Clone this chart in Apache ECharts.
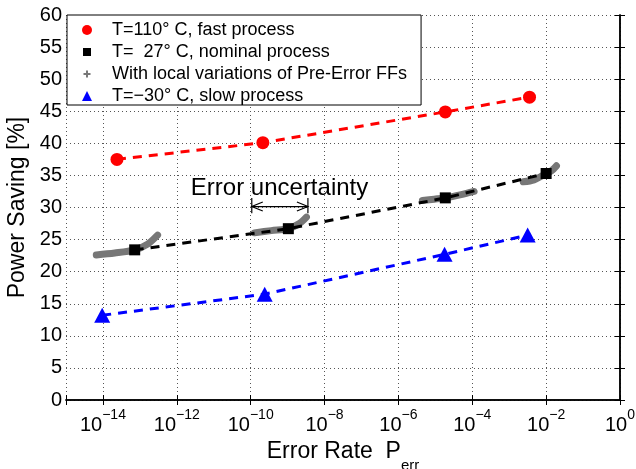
<!DOCTYPE html>
<html>
<head>
<meta charset="utf-8">
<script src="https://cdn.jsdelivr.net/npm/echarts@6/dist/echarts.min.js"></script>
<style>
html, body { margin: 0; padding: 0; background: #fff; }
#chart { width: 636px; height: 469px; }
</style>
</head>
<body>
<div id="chart"></div>
<script>
// x values are log10(P_err), y values are power saving in %
const hotX = [-13.62, -9.67, -4.73, -2.45];
const hotY = [37.5, 40.1, 44.9, 47.2];
const nomX = [-13.14, -8.98, -4.73, -2.0];
const nomY = [23.4, 26.7, 31.5, 35.3];
const coldX = [-14.02, -9.62, -4.75, -2.5];
const coldY = [13.2, 16.5, 22.7, 25.7];

// local variations around each nominal point
const localVar1 = [[-14.18, 22.6], [-13.68, 22.9], [-13.14, 23.4], [-12.79, 24.3], [-12.52, 25.7]];
const localVar2 = [[-9.90, 26.05], [-9.44, 26.4], [-8.98, 26.7], [-8.68, 27.5], [-8.49, 28.5]];
const localVar3 = [[-5.35, 31.1], [-5.03, 31.3], [-4.73, 31.5], [-4.30, 32.0], [-3.95, 32.5]];
const localVar4 = [[-2.62, 34.0], [-2.33, 34.3], [-2.0, 35.3], [-1.86, 35.7], [-1.72, 36.5]];

const names = [
    'T=110° C, fast process',
    'T=  27° C, nominal process',
    'With local variations of Pre-Error FFs',
    'T=\u221230° C, slow process'
];

// "Error uncertainty" annotation (data coords)
const arrowX = [-9.97, -8.45];
const arrowY = 30.15;
const barY = [29.1, 31.5];
const noteX = -11.62;
const noteY = 33.0;

const FONT = 'Liberation Sans, Arial, Helvetica, sans-serif';

function pairs(xs, ys) {
    return xs.map((x, i) => [x, ys[i]]);
}

function expLabel(v) {
    if (Math.abs(Math.round(v)) % 2 === 1) return '';
    const e = Math.round(v);
    const s = e < 0 ? '\u2212' + (-e) : String(e);
    return '{b|10}{s|' + s + '}';
}

const chartDom = document.getElementById('chart');
const myChart = echarts.init(chartDom);

const dashed = { type: [9, 7], width: 3 };

function localSeries(data) {
    return {
        name: names[2],
        type: 'line',
        data: data,
        symbol: 'none',
        smooth: 0.3,
        z: 1,
        itemStyle: { color: '#777' },
        lineStyle: { color: '#777', width: 7, cap: 'round', join: 'round' }
    };
}

const option = {
    backgroundColor: '#fff',
    animation: false,
    textStyle: { fontFamily: FONT },
    grid: { left: 66, right: 16, top: 15, bottom: 69, containLabel: false, outerBoundsMode: 'none' },
    legend: {
        orient: 'vertical',
        left: 67,
        top: 15,
        padding: [6, 14, 0, 15],
        itemWidth: 10,
        itemHeight: 10,
        itemGap: 4,
        backgroundColor: '#fff',
        borderColor: '#000',
        borderWidth: 1,
        borderRadius: 0,
        textStyle: { fontSize: 18, color: '#000', fontFamily: FONT, lineHeight: 18, padding: [0, 0, 0, 15] },
        data: [
            { name: names[0], icon: 'circle' },
            { name: names[1], icon: 'path://M0,0M10,10M1,1h8v8h-8z' },
            { name: names[2], icon: 'path://M0,0M10,10M4,1.5h2v2.5h2.5v2h-2.5v2.5h-2v-2.5h-2.5v-2h2.5z' },
            { name: names[3], icon: 'triangle' }
        ]
    },
    xAxis: [{
        type: 'value',
        min: -15,
        max: 0,
        splitNumber: 7,
        name: '{t|Error Rate  P}{sub|err}',
        nameLocation: 'middle',
        nameGap: 24,
        nameTextStyle: {
            rich: {
                t: { fontSize: 23, color: '#000', fontFamily: FONT, lineHeight: 24, verticalAlign: 'top' },
                sub: { fontSize: 15, color: '#000', fontFamily: FONT, lineHeight: 33, verticalAlign: 'bottom' }
            }
        },
        axisLine: { show: true, lineStyle: { color: '#000', width: 1.5 } },
        axisTick: { show: true, inside: true, length: 5, lineStyle: { color: '#000' } },
        axisLabel: {
            margin: 8,
            formatter: expLabel,
            rich: {
                b: { fontSize: 20, color: '#000', fontFamily: FONT, lineHeight: 27, verticalAlign: 'bottom' },
                s: { fontSize: 14, color: '#000', fontFamily: FONT, lineHeight: 14, verticalAlign: 'top' }
            }
        },
        splitLine: { show: true, lineStyle: { color: '#555', type: [1, 3], width: 1 } }
    }, {
        type: 'value',
        position: 'top',
        min: -15,
        max: 0,
        splitNumber: 7,
        axisLine: { show: true, lineStyle: { color: '#000', width: 1.5 } },
        axisTick: { show: true, inside: true, length: 5, lineStyle: { color: '#000' } },
        axisLabel: { show: false },
        splitLine: { show: false }
    }],
    yAxis: [{
        type: 'value',
        min: 0,
        max: 60,
        interval: 5,
        name: 'Power Saving [%]',
        nameLocation: 'middle',
        nameGap: 28,
        nameTextStyle: { fontSize: 23, color: '#000', fontFamily: FONT },
        axisLine: { show: true, lineStyle: { color: '#000', width: 1.5 } },
        axisTick: { show: true, inside: true, length: 5, lineStyle: { color: '#000' } },
        axisLabel: { fontSize: 20, color: '#000', margin: 4, fontFamily: FONT },
        splitLine: { show: true, lineStyle: { color: '#555', type: [1, 3], width: 1 } }
    }, {
        type: 'value',
        position: 'right',
        min: 0,
        max: 60,
        interval: 5,
        axisLine: { show: true, lineStyle: { color: '#000', width: 1.5 } },
        axisTick: { show: true, inside: true, length: 5, lineStyle: { color: '#000' } },
        axisLabel: { show: false },
        splitLine: { show: false }
    }],
    series: [
        localSeries(localVar1),
        localSeries(localVar2),
        localSeries(localVar3),
        localSeries(localVar4),
        {
            name: names[0],
            type: 'line',
            data: pairs(hotX, hotY),
            symbol: 'circle',
            symbolSize: 13,
            z: 3,
            itemStyle: { color: '#ff0000' },
            lineStyle: Object.assign({ color: '#ff0000' }, dashed)
        },
        {
            name: names[1],
            type: 'line',
            data: pairs(nomX, nomY),
            symbol: 'rect',
            symbolSize: 11,
            z: 3,
            itemStyle: { color: '#000' },
            lineStyle: Object.assign({ color: '#000' }, dashed)
        },
        {
            name: names[3],
            type: 'line',
            data: pairs(coldX, coldY),
            symbol: 'triangle',
            symbolSize: [16, 15],
            z: 3,
            itemStyle: { color: '#0000ff' },
            lineStyle: Object.assign({ color: '#0000ff' }, dashed)
        }
    ]
};

myChart.setOption(option);

// annotation placed through the axes
function drawNote() {
    const p1 = myChart.convertToPixel({ gridIndex: 0 }, [arrowX[0], arrowY]);
    const p2 = myChart.convertToPixel({ gridIndex: 0 }, [arrowX[1], arrowY]);
    const top = myChart.convertToPixel({ gridIndex: 0 }, [arrowX[0], barY[1]])[1];
    const bot = myChart.convertToPixel({ gridIndex: 0 }, [arrowX[0], barY[0]])[1];
    const t = myChart.convertToPixel({ gridIndex: 0 }, [noteX, noteY]);
    const stroke = { stroke: '#000', lineWidth: 1.2, fill: null };
    myChart.setOption({
        graphic: [
            { type: 'line', shape: { x1: p1[0], y1: p1[1], x2: p2[0], y2: p2[1] }, style: stroke, z: 10 },
            { type: 'polyline', shape: { points: [[p1[0] + 11, p1[1] - 4.5], [p1[0], p1[1]], [p1[0] + 11, p1[1] + 4.5]] }, style: stroke, z: 10 },
            { type: 'polyline', shape: { points: [[p2[0] - 11, p2[1] - 4.5], [p2[0], p2[1]], [p2[0] - 11, p2[1] + 4.5]] }, style: stroke, z: 10 },
            { type: 'line', shape: { x1: p1[0], y1: top, x2: p1[0], y2: bot }, style: stroke, z: 10 },
            { type: 'line', shape: { x1: p2[0], y1: top, x2: p2[0], y2: bot }, style: stroke, z: 10 },
            {
                type: 'text', x: t[0], y: t[1], z: 10,
                style: { text: 'Error uncertainty', fontSize: 24, fontFamily: FONT, fill: '#000', verticalAlign: 'middle', align: 'left' }
            }
        ]
    });
}
drawNote();

window.addEventListener('resize', () => {
    myChart.resize();
    drawNote();
});
</script>
</body>
</html>
